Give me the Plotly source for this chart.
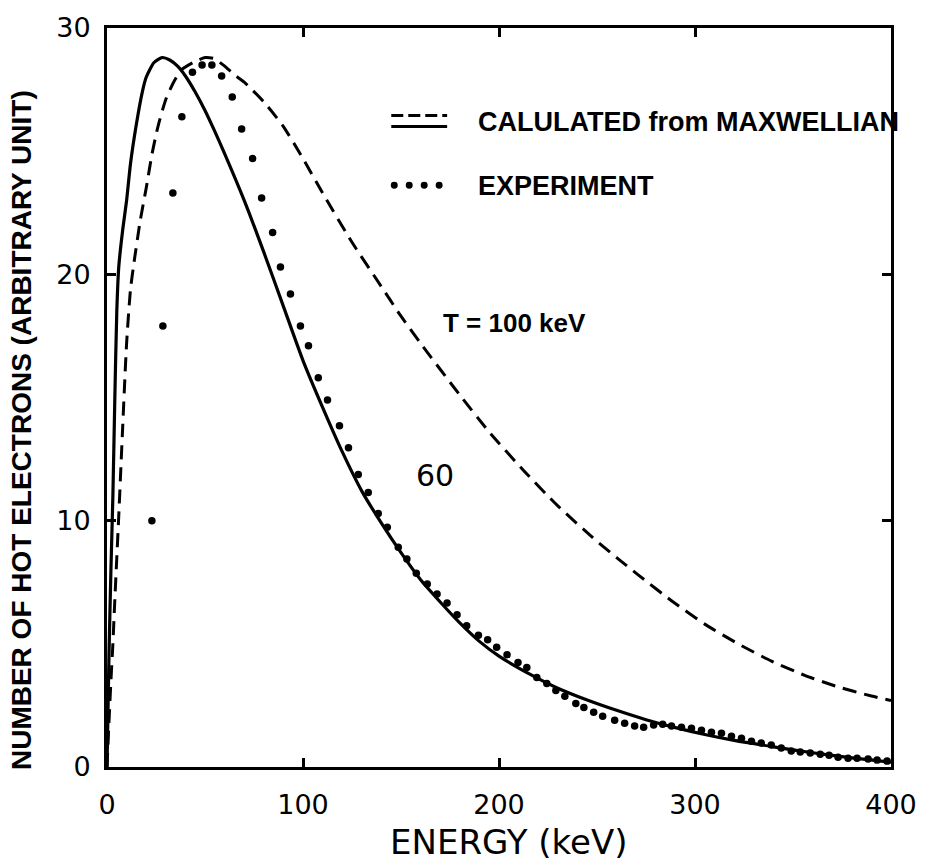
import plotly.graph_objects as go

# Calculated Maxwellian spectrum, T = 60 keV (solid)
e_t60 = [0, 1, 2, 3, 4, 5, 6, 8, 10, 12, 15, 18, 20, 24, 28, 32, 36, 40, 45, 50,
         55, 60, 70, 80, 90, 100, 110, 120, 130, 140, 150, 160, 170, 180, 190,
         200, 215, 230, 245, 260, 275, 290, 305, 320, 340, 360, 380, 400]
n_t60 = [0, 4.5, 8.0, 11.0, 15.0, 18.5, 20.3, 21.8, 23.0, 24.5, 26.1, 27.4, 28.0,
         28.6, 28.8, 28.7, 28.45, 28.05, 27.4, 26.65, 25.8, 24.9, 23.0, 20.9, 18.7,
         16.5, 14.6, 12.8, 11.2, 9.9, 8.7, 7.6, 6.7, 5.85, 5.1, 4.5, 3.8, 3.2,
         2.72, 2.3, 1.92, 1.6, 1.32, 1.08, 0.82, 0.58, 0.37, 0.2]

# Calculated Maxwellian spectrum, T = 100 keV (dashed)
e_t100 = [0, 1, 2, 3, 4, 6, 8, 10, 12, 14, 17, 20, 23, 26, 30, 34, 38, 44, 50,
          55, 60, 65, 70, 80, 90, 100, 110, 125, 140, 150, 160, 180, 195, 213,
          230, 248, 260, 271, 288, 305, 322, 339, 356, 373, 390, 400]
n_t100 = [0, 1.8, 3.5, 5.0, 6.8, 10.2, 13.8, 17.2, 19.4, 20.6, 22.2, 23.5, 24.9,
          26.0, 27.1, 27.8, 28.3, 28.6, 28.8, 28.75, 28.45, 28.1, 27.8, 27.0,
          26.0, 24.7, 23.3, 21.3, 19.5, 18.3, 17.2, 15.1, 13.6, 12.0, 10.6, 9.3,
          8.5, 7.8, 6.75, 5.8, 5.0, 4.3, 3.72, 3.25, 2.88, 2.7]

# Measured spectrum (dots)
e_exp = [22.9, 28.5, 33.6, 38.2, 43.6, 48.5, 53.5, 58.5, 63.9, 68.7, 74.3, 78.9,
         84.5, 88.5, 93.6, 98.7, 102.8, 107.8, 112.5, 118.6, 123.2, 128.2, 133.3,
         138.4, 143.0, 148.6, 153.0, 157.8, 163.4, 168.4, 173.5, 178.6, 183.5,
         189.5, 194.2, 198.8, 204.1, 209.7, 214.2, 219.3, 224.4, 229.0, 233.6,
         239.2, 243.3, 248.3, 252.9, 259.0, 264.1, 269.2, 273.8, 278.9, 283.5,
         288.0, 293.1, 298.2, 303.3, 308.4, 313.5, 318.6, 323.7, 328.8, 333.8,
         338.9, 344.0, 349.1, 353.7, 358.8, 363.9, 368.4, 373.0, 378.1, 382.7,
         388.3, 392.9, 398.0]
n_exp = [10.0, 17.9, 23.3, 26.4, 28.2, 28.5, 28.5, 28.05, 27.2, 25.9, 24.7, 23.1,
         21.7, 20.3, 19.2, 17.9, 17.1, 15.8, 14.9, 13.85, 12.96, 11.87, 11.14,
         10.29, 9.73, 8.92, 8.44, 7.87, 7.43, 7.02, 6.66, 6.18, 5.73, 5.35, 5.17,
         4.86, 4.56, 4.24, 4.04, 3.63, 3.39, 3.11, 2.87, 2.58, 2.42, 2.22, 2.06,
         1.90, 1.78, 1.66, 1.61, 1.70, 1.74, 1.66, 1.61, 1.57, 1.49, 1.41, 1.37,
         1.25, 1.17, 1.05, 0.97, 0.89, 0.77, 0.65, 0.61, 0.57, 0.52, 0.48, 0.40,
         0.36, 0.36, 0.32, 0.28, 0.24]

x_ticks = [0, 100, 200, 300, 400]
y_ticks = [0, 10, 20, 30]

INK = "black"
BOLD = "Liberation Sans"

fig = go.Figure()
fig.add_trace(go.Scatter(x=e_t100, y=n_t100, mode="lines",
                         line=dict(color=INK, width=3, dash="14px,8px",
                                   shape="spline", smoothing=0.6),
                         showlegend=False))
fig.add_trace(go.Scatter(x=e_t60, y=n_t60, mode="lines",
                         line=dict(color=INK, width=3.2, shape="spline", smoothing=0.6),
                         showlegend=False))
fig.add_trace(go.Scatter(x=e_exp, y=n_exp, mode="markers",
                         marker=dict(color=INK, size=7.5), showlegend=False))

# Key: double line (dashed over solid) and a row of dots, drawn in paper space
def px_x(p):
    return (p - 107) / 786.0

def px_y(p):
    return (767 - p) / 743.0

shapes = [
    dict(type="line", xref="paper", yref="paper", x0=px_x(392), x1=px_x(448),
         y0=px_y(112), y1=px_y(112), line=dict(color=INK, width=3, dash="12px,5px")),
    dict(type="line", xref="paper", yref="paper", x0=px_x(392), x1=px_x(448),
         y0=px_y(123), y1=px_y(123), line=dict(color=INK, width=3)),
]
for cx in [395, 410, 425, 440]:
    shapes.append(dict(type="circle", xref="paper", yref="paper",
                       x0=px_x(cx - 3.5), x1=px_x(cx + 3.5),
                       y0=px_y(182 + 3.5), y1=px_y(182 - 3.5),
                       fillcolor=INK, line=dict(width=0)))

annotations = [
    dict(text="CALULATED from MAXWELLIAN", xref="paper", yref="paper",
         x=px_x(477), y=px_y(119), xanchor="left", yanchor="middle", showarrow=False,
         font=dict(family=BOLD, size=27, color=INK, weight="bold")),
    dict(text="EXPERIMENT", xref="paper", yref="paper",
         x=px_x(477), y=px_y(183), xanchor="left", yanchor="middle", showarrow=False,
         font=dict(family=BOLD, size=27, color=INK, weight="bold")),
    dict(text="T = 100 keV", xref="paper", yref="paper",
         x=px_x(516), y=px_y(321), xanchor="center", yanchor="middle", showarrow=False,
         font=dict(family=BOLD, size=26, color=INK, weight="bold")),
    dict(text="60", xref="paper", yref="paper",
         x=px_x(436), y=px_y(474), xanchor="center", yanchor="middle", showarrow=False,
         font=dict(family="DejaVu Sans", size=30, color=INK)),
    dict(text="NUMBER OF HOT ELECTRONS (ARBITRARY UNIT)", xref="paper", yref="paper",
         x=px_x(22), y=px_y(428), xanchor="center", yanchor="middle", showarrow=False,
         textangle=-90, font=dict(family=BOLD, size=28, color=INK, weight="bold")),
    dict(text="ENERGY (keV)", xref="paper", yref="paper",
         x=px_x(510), y=px_y(842), xanchor="center", yanchor="middle", showarrow=False,
         font=dict(family="DejaVu Sans", size=34, color=INK)),
]

axis_common = dict(showline=True, linecolor=INK, linewidth=3, mirror="ticks",
                   ticks="inside", ticklen=9, tickwidth=2.5, tickcolor=INK,
                   showgrid=False, zeroline=False,
                   tickfont=dict(family="DejaVu Sans", size=27, color=INK))

fig.update_layout(
    width=929, height=865,
    margin=dict(l=107, r=36, t=24, b=98),
    paper_bgcolor="white", plot_bgcolor="white",
    xaxis=dict(range=[0, 400], tickvals=x_ticks, ticktext=[str(v) for v in x_ticks],
               ticklabelstandoff=12, **axis_common),
    yaxis=dict(range=[0, 30], tickvals=y_ticks, ticktext=[str(v) for v in y_ticks],
               ticklabelstandoff=8, **axis_common),
    shapes=shapes, annotations=annotations,
)

fig.write_html("out.html")
